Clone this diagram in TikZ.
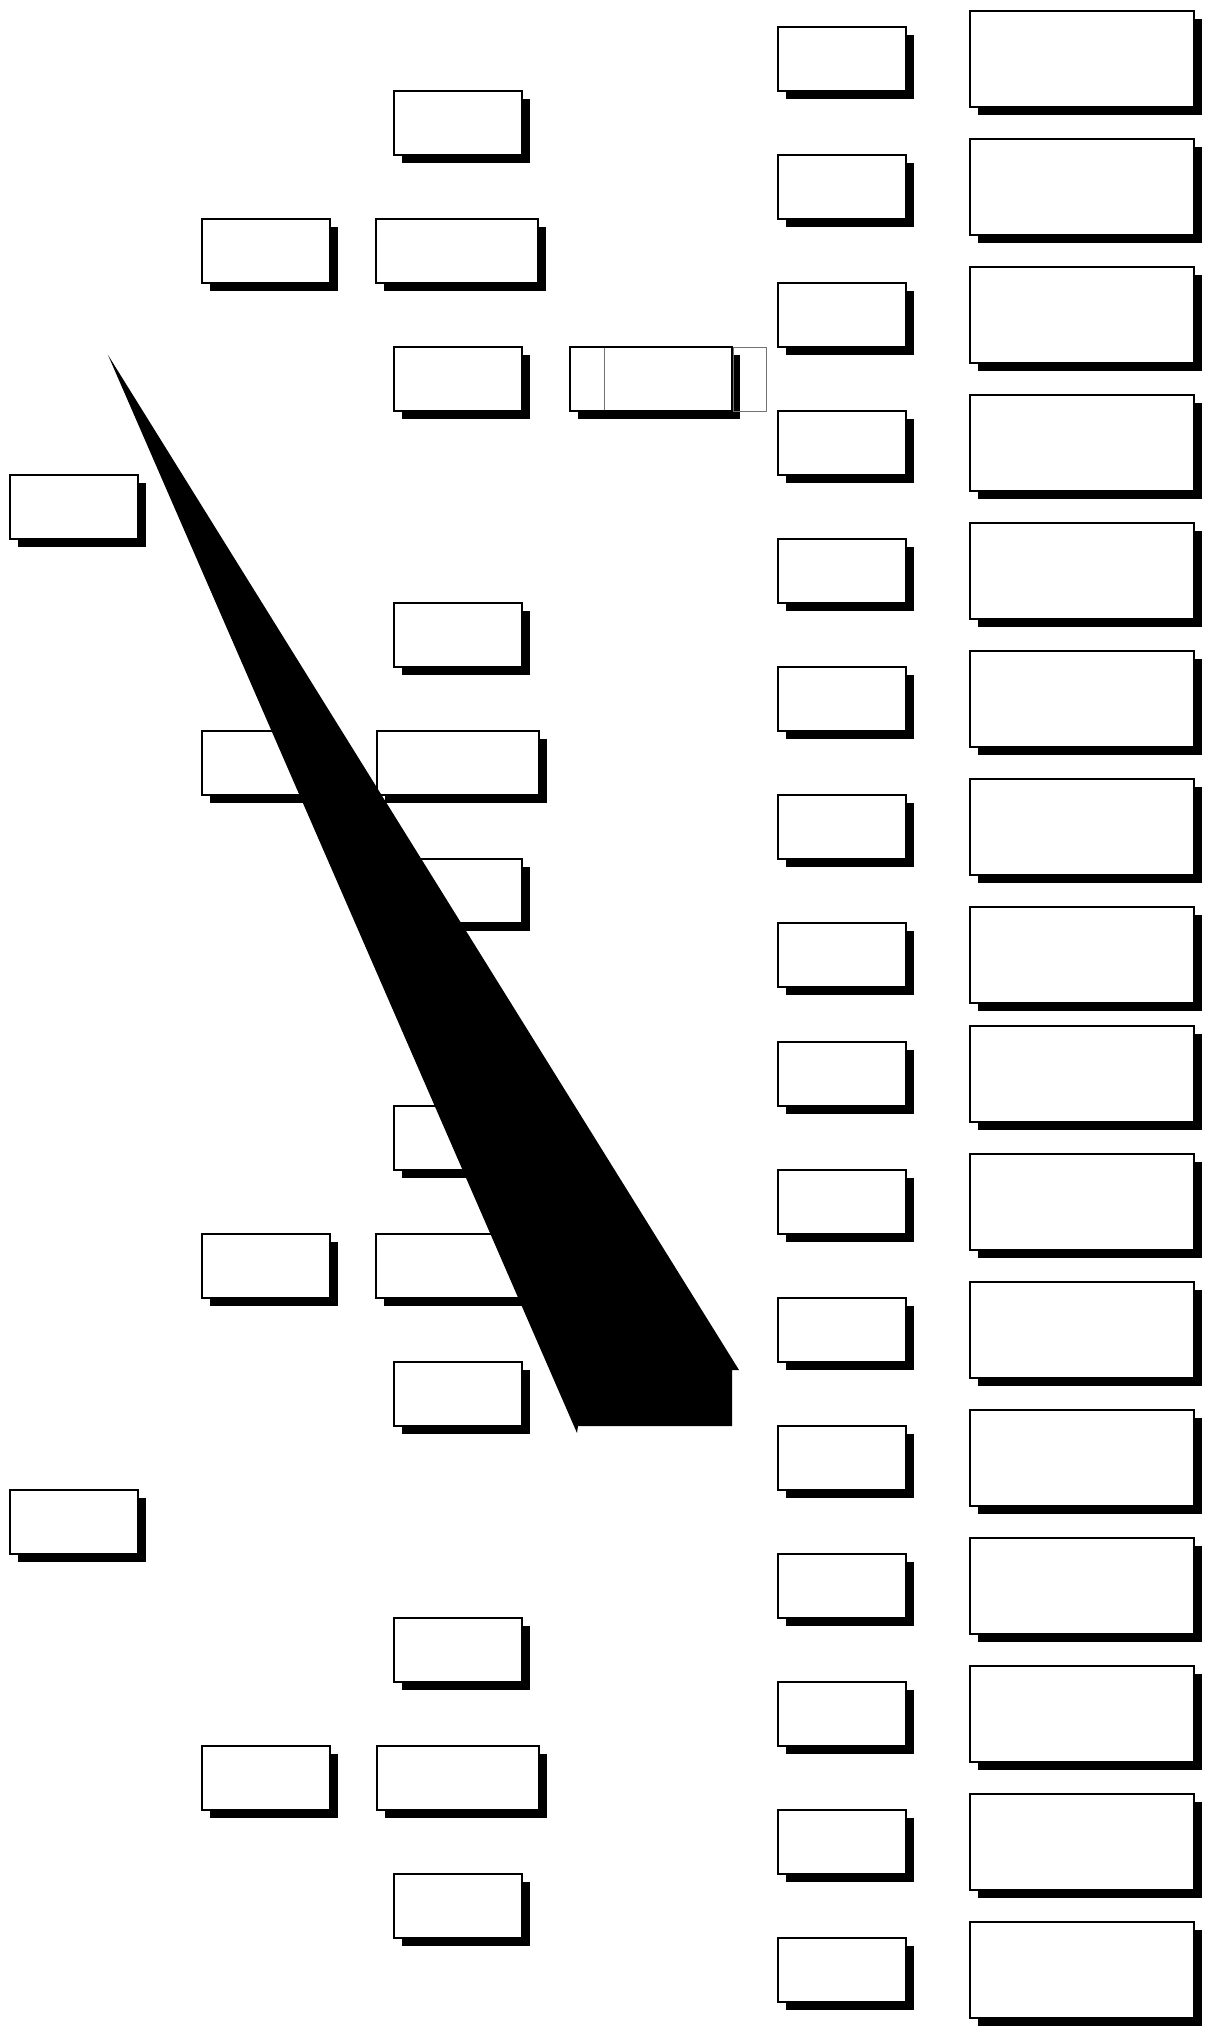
\documentclass[tikz,border=0pt]{standalone}
\usetikzlibrary{shadows}
\tikzset{
  box/.style={draw=black, line width=2pt, fill=white, inner sep=0pt,
    minimum height=64pt,
    drop shadow={shadow xshift=8pt, shadow yshift=-8pt, fill=black, opacity=1}},
  sbox/.style={box, minimum width=128pt},
  wbox/.style={box, minimum width=162pt},
  fbox/.style={box, minimum width=224pt, minimum height=96pt},
  thingray/.style={draw=black!55, line width=1pt},
}
\begin{document}
\begin{tikzpicture}[x=1pt, y=-1pt]
\useasboundingbox (0,0) rectangle (1209,2028);
% column A
\node[sbox] (a1) at (73.5,507) {};
\node[sbox] (a2) at (73.5,1522) {};
% column B
\node[sbox] (b1) at (266,251) {};
\node[sbox] (b2) at (266,763) {};
\node[sbox] (b3) at (266,1266) {};
\node[sbox] (b4) at (266,1778) {};
% column C wide
\node[wbox] (w1) at (457,251) {};
\node[wbox] (w2) at (458,763) {};
\node[wbox] (w3) at (457,1266) {};
\node[wbox] (w4) at (458,1778) {};
% column C narrow
\foreach \i/\y in {1/123,2/379,3/635,4/891,5/1138,6/1394,7/1650,8/1906}
  \node[sbox] (c\i) at (458,\y) {};
% column D
\node[wbox] (d1) at (651,379) {};
\draw[thingray] ([xshift=35pt,yshift=-2pt]d1.north west) -- ([xshift=35pt,yshift=2pt]d1.south west);
\draw[thingray] ([yshift=-1pt]d1.north east) rectangle ([xshift=33pt,yshift=1pt]d1.south east);
% columns E and F
\foreach \i/\y in {1/59,2/187,3/315,4/443,5/571,6/699,7/827,8/955,9/1074,10/1202,11/1330,12/1458,13/1586,14/1714,15/1842,16/1970}{
  \node[sbox] (e\i) at (842,\y) {};
  \node[fbox] (f\i) at (1082,\y) {};
}
% large black wedge
\fill[black] (108,355) -- (739,1370) -- (732,1370) -- (732,1426) -- (578,1426) -- (577,1433) -- cycle;
\end{tikzpicture}
\end{document}
